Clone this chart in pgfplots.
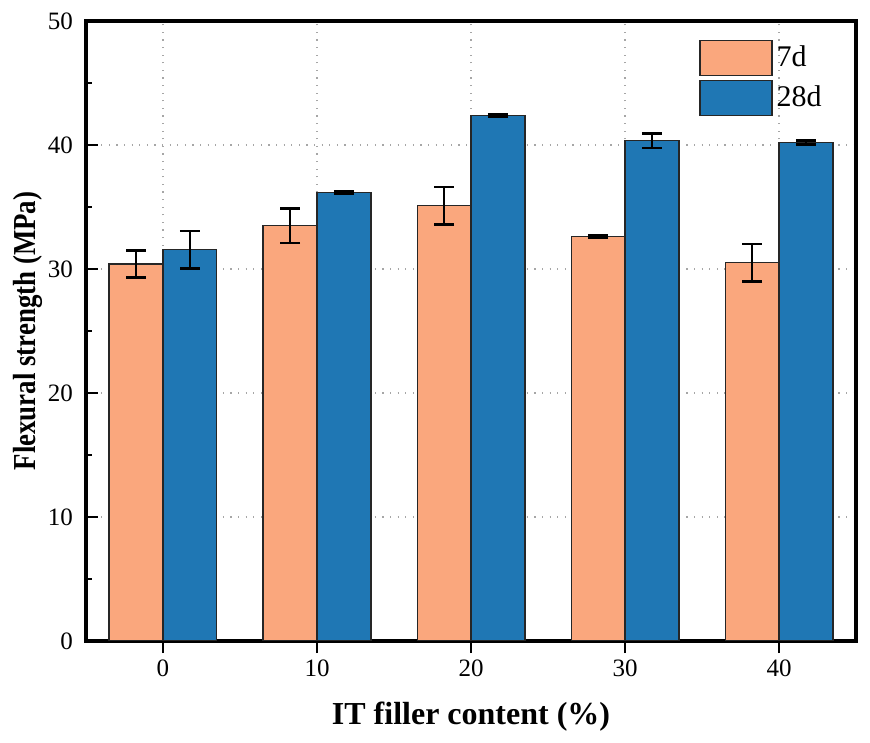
\documentclass[border=0pt]{standalone}
\usepackage{pgfplots}
\pgfplotsset{compat=1.18}
\usepackage{pgfplotstable}
\usepackage{fontspec}
\setmainfont{Liberation Serif}
\definecolor{c7}{RGB}{250,167,125}
\definecolor{c28}{RGB}{31,119,180}
\pgfplotstableread{
x y e
0 30.4 1.1
10 33.5 1.4
20 35.1 1.5
30 32.6 0.1
40 30.5 1.5
}\sevend
\pgfplotstableread{
x y e
0 31.55 1.5
10 36.2 0.1
20 42.4 0.08
30 40.35 0.6
40 40.2 0.15
}\twentyeightd
\begin{document}
\begin{tikzpicture}
\begin{axis}[
  scale only axis,
  width=385pt, height=310pt,
  xmin=-5, xmax=45, ymin=0, ymax=50,
  xtick={0,10,20,30,40},
  ytick={0,10,20,30,40,50},
  minor y tick num=1,
  xtick pos=bottom, ytick pos=left,
  tick align=inside,
  major tick length=6pt, minor tick length=3pt,
  every tick/.style={black, line width=1.3pt},
  axis line style={line width=1.6pt},
  grid=major,
  major grid style={gray!70, line width=0.6pt, dash pattern=on 0.6pt off 3.2pt},
  /pgf/number format/assume math mode=true,
  tick label style={font=\fontsize{12.5}{14}\selectfont},
  xticklabel style={yshift=0pt},
  yticklabel style={xshift=-3pt},
  xlabel={\textbf{IT filler content (\%)}},
  ylabel={\scalebox{0.84}[1]{\textbf{Flexural strength (MPa)}}},
  label style={font=\fontsize{16}{19}\selectfont},
  xlabel style={at={(axis description cs:0.5,-0.1226)}, anchor=center},
  ylabel style={at={(axis description cs:-0.075,0.5)}, anchor=center},
  ybar, bar width=3.5,
  legend style={draw=none, fill=none, at={(axis cs:34.8,48.5)}, anchor=north west,
    font=\fontsize{15}{17}\selectfont, row sep=2pt, inner sep=0pt},
  legend image code/.code={\draw[#1, draw=black!85, line width=0.6pt] (0pt,-8.7pt) rectangle (36pt,8.7pt);},
  legend cell align=left,
  error bars/error bar style={line width=1.3pt, black},
  error bars/error mark options={rotate=90, mark size=5pt, line width=1.3pt, black},
]
\addplot[fill=c7, draw=black!85, line width=0.6pt, bar shift=-1.75,
  error bars/.cd, y dir=both, y explicit]
  table[x=x, y=y, y error=e]{\sevend};
\addlegendentry{7d}
\addplot[fill=c28, draw=black!85, line width=0.6pt, bar shift=1.75,
  error bars/.cd, y dir=both, y explicit]
  table[x=x, y=y, y error=e]{\twentyeightd};
\addlegendentry{28d}
\end{axis}
\pgfresetboundingbox
\path[use as bounding box] ([shift={(-43pt,-50.5pt)}]current axis.south west) rectangle ([shift={(7pt,10.5pt)}]current axis.north east);
\end{tikzpicture}
\end{document}
